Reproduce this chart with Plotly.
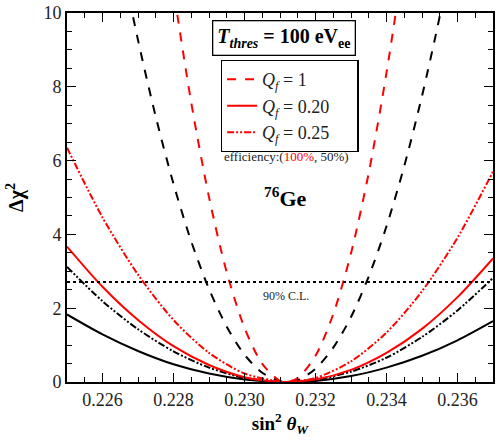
import plotly.graph_objects as go

# ---- data ----
x_wide = [0.225, 0.226, 0.227, 0.228, 0.229, 0.230, 0.231, 0.23118, 0.232, 0.233, 0.234, 0.235, 0.236, 0.237]

# Black (efficiency 50%)
blk_q020 = [1.83, 1.29, 0.84, 0.48, 0.23, 0.07, 0.00, 0.0, 0.03, 0.16, 0.39, 0.71, 1.13, 1.65]
blk_q025 = [3.12, 2.19, 1.43, 0.83, 0.39, 0.11, 0.00, 0.0, 0.06, 0.28, 0.66, 1.22, 1.94, 2.82]
# Red (efficiency 100%)
red_q020 = [3.67, 2.58, 1.68, 0.97, 0.46, 0.13, 0.00, 0.0, 0.07, 0.33, 0.79, 1.44, 2.30, 3.35]
red_q025 = [6.35, 4.46, 2.91, 1.68, 0.79, 0.23, 0.01, 0.0, 0.11, 0.56, 1.34, 2.46, 3.91, 5.70]

x_blk_q1 = [0.226, 0.2265, 0.227, 0.2275, 0.228, 0.2285, 0.229, 0.2295, 0.230, 0.2305, 0.231, 0.23118,
            0.2315, 0.232, 0.2325, 0.233, 0.2335, 0.234, 0.2345, 0.235, 0.2355, 0.236]
blk_q1 = [14.2, 11.6, 9.27, 7.19, 5.37, 3.81, 2.52, 1.50, 0.74, 0.25, 0.02, 0.0,
          0.05, 0.36, 0.93, 1.76, 2.86, 4.22, 5.85, 7.75, 9.91, 12.3]

x_red_q1 = [0.2275, 0.228, 0.2285, 0.229, 0.2295, 0.230, 0.2305, 0.231, 0.23118,
            0.2315, 0.232, 0.2325, 0.233, 0.2335, 0.234, 0.2345, 0.235]
red_q1 = [14.3, 10.66, 7.57, 5.01, 2.97, 1.47, 0.49, 0.03, 0.0,
          0.11, 0.71, 1.84, 3.49, 5.67, 8.38, 11.6, 15.4]

cl90 = 2.71
x_range = [0.225, 0.237]
y_range = [0, 10]
x_ticks = [0.226, 0.228, 0.230, 0.232, 0.234, 0.236]
y_ticks = [0, 2, 4, 6, 8, 10]
legend_names = ["<i>Q<sub>f</sub></i> = 1", "<i>Q<sub>f</sub></i> = 0.20", "<i>Q<sub>f</sub></i> = 0.25"]

RED = "#ff0000"
BLK = "#000000"
FONT = "Liberation Serif, DejaVu Serif, serif"
DASHDOT = "7px,2px,2px,2px,2px,2px"
PAD = "&nbsp;" * 5

fig = go.Figure()

def add(x, y, color, dash, name=None, show=False):
    fig.add_trace(go.Scatter(x=x, y=y, mode="lines", name=name, showlegend=show,
                             line=dict(color=color, width=2, dash=dash, shape="spline", smoothing=0.8)))

# black curves
add(x_wide, blk_q020, BLK, "solid")
add(x_wide, blk_q025, BLK, DASHDOT)
add(x_blk_q1, blk_q1, BLK, "dash")
# red curves (legend)
add(x_red_q1, red_q1, RED, "dash", legend_names[0] + PAD, True)
add(x_wide, red_q020, RED, "solid", legend_names[1] + PAD, True)
add(x_wide, red_q025, RED, DASHDOT, legend_names[2] + PAD, True)

# 90% C.L. line
fig.add_trace(go.Scatter(x=x_range, y=[cl90, cl90], mode="lines", showlegend=False,
                         line=dict(color=BLK, width=2, dash="dot")))

axis_common = dict(showline=True, linecolor="black", linewidth=2, mirror="allticks",
                   ticks="inside", ticklen=9, tickwidth=1.3, tickcolor="black",
                   showgrid=False, zeroline=False,
                   tickfont=dict(family=FONT, size=18, color="#222"))

fig.update_xaxes(range=x_range, tickvals=x_ticks, tickformat=".3f",
                 minor=dict(dtick=0.0005, ticks="inside", ticklen=5, tickwidth=1.3, tickcolor="black"),
                 title=dict(text="<b>sin<sup>2</sup> <i>θ<sub>W</sub></i></b>",
                            font=dict(family=FONT, size=19, color="black"), standoff=4),
                 **axis_common)
fig.update_yaxes(range=y_range, tickvals=y_ticks,
                 minor=dict(dtick=0.5, ticks="inside", ticklen=5, tickwidth=1.3, tickcolor="black"),
                 title=dict(text="<b>Δχ<sup>2</sup></b>",
                            font=dict(family=FONT, size=20, color="black"), standoff=14),
                 **axis_common)

fig.update_layout(
    width=498, height=444,
    margin=dict(l=67, r=3, t=13, b=62),
    font=dict(family=FONT),
    plot_bgcolor="white", paper_bgcolor="white",
    legend=dict(x=0.361, y=0.873, xanchor="left", yanchor="top",
                bordercolor="black", borderwidth=1.3, bgcolor="white",
                font=dict(family=FONT, size=18, color="#222"),
                tracegroupgap=0, itemwidth=30),
    annotations=[
        dict(x=0.51, y=0.931, xref="paper", yref="paper", showarrow=False,
             xanchor="center", yanchor="middle",
             text="<b><i>T<sub>thres</sub></i> = 100 eV<sub>ee</sub></b>",
             font=dict(family=FONT, size=20, color="black"),
             bordercolor="black", borderwidth=1.3, borderpad=4, bgcolor="white"),
        dict(x=0.515, y=0.61, xref="paper", yref="paper", showarrow=False,
             xanchor="center", yanchor="middle",
             text="efficiency:(<span style='color:#ff0000'>100%</span>, 50%)",
             font=dict(family=FONT, size=13, color="#222")),
        dict(x=0.513, y=0.501, xref="paper", yref="paper", showarrow=False,
             xanchor="center", yanchor="middle",
             text="<b><sup>76</sup>Ge</b>",
             font=dict(family=FONT, size=22, color="black")),
        dict(x=0.515, y=0.233, xref="paper", yref="paper", showarrow=False,
             xanchor="center", yanchor="middle",
             text="90% C.L.",
             font=dict(family=FONT, size=12, color="#222")),
    ],
)

fig.write_html("out.html", config={"displayModeBar": False},
               post_script="document.body.style.margin='0';")
